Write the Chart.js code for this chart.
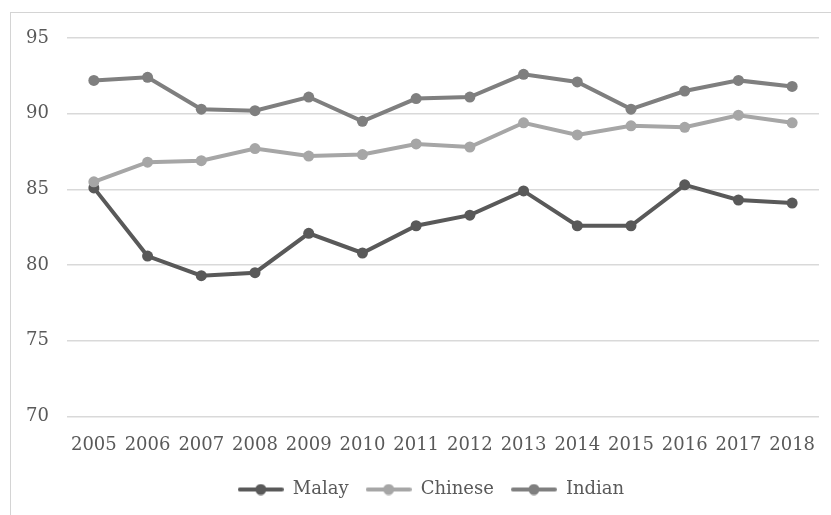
<!DOCTYPE html>
<html>
<head>
<meta charset="utf-8">
<script src="https://cdn.jsdelivr.net/npm/chart.js@4"></script>
<style>
  html, body { margin: 0; padding: 0; background: #ffffff; overflow: hidden; width: 831px; height: 515px; }
  #frame { position: absolute; left: 10px; top: 12px; width: 860px; height: 540px;
           border-left: 1px solid #d4d4d4; border-top: 1px solid #d4d4d4; }
  #c { position: absolute; left: 0px; top: 0px; }
</style>
</head>
<body>
<div id="frame"><canvas id="c" width="840" height="502"></canvas></div>
<script>
const years = ['2005','2006','2007','2008','2009','2010','2011','2012','2013','2014','2015','2016','2017','2018'];
const malay   = [85.1, 80.6, 79.3, 79.5, 82.1, 80.8, 82.6, 83.3, 84.9, 82.6, 82.6, 85.3, 84.3, 84.1];
const chinese = [85.5, 86.8, 86.9, 87.7, 87.2, 87.3, 88.0, 87.8, 89.4, 88.6, 89.2, 89.1, 89.9, 89.4];
const indian  = [92.2, 92.4, 90.3, 90.2, 91.1, 89.5, 91.0, 91.1, 92.6, 92.1, 90.3, 91.5, 92.2, 91.8];
const seriesNames = ['Malay', 'Chinese', 'Indian'];
const yTicks = [70, 75, 80, 85, 90, 95];

const colors = ['#595959', '#a6a6a6', '#7f7f7f'];
const textColor = '#595959';
const fontFamily = "'DejaVu Serif', serif";

function legendSwatch(color) {
  const cv = document.createElement('canvas');
  cv.width = 46; cv.height = 12;
  const g = cv.getContext('2d');
  g.strokeStyle = color; g.lineWidth = 4; g.lineCap = 'round';
  g.beginPath(); g.moveTo(2, 6); g.lineTo(44, 6); g.stroke();
  g.fillStyle = color;
  g.beginPath(); g.arc(23, 6, 5.5, 0, Math.PI * 2); g.fill();
  return cv;
}

const dataLists = [malay, chinese, indian];
const datasets = seriesNames.map((name, i) => ({
  label: name,
  data: dataLists[i],
  borderColor: colors[i],
  backgroundColor: colors[i],
  pointBackgroundColor: colors[i],
  pointBorderColor: colors[i],
  borderWidth: 4,
  pointRadius: 5.5,
  pointBorderWidth: 0,
  tension: 0,
  order: 3 - i
}));

const legendShift = {
  id: 'legendShift',
  afterLayout(chart) {
    if (chart.legend) { chart.legend.left += 8.5; chart.legend.right += 8.5; }
  }
};

new Chart(document.getElementById('c'), {
  type: 'line',
  data: { labels: years, datasets },
  plugins: [legendShift],
  options: {
    responsive: false,
    animation: false,
    devicePixelRatio: 1,
    layout: { padding: { left: 15, right: 32, top: 25, bottom: 6.5 } },
    plugins: {
      tooltip: { enabled: false },
      legend: {
        position: 'bottom',
        labels: {
          color: textColor,
          font: { family: fontFamily, size: 18 },
          usePointStyle: true,
          pointStyleWidth: 46,
          boxHeight: 12,
          padding: 17,
          sort: (a, b) => a.datasetIndex - b.datasetIndex,
          generateLabels: (chart) => chart.data.datasets.map((ds, i) => ({
            text: ds.label,
            fillStyle: ds.borderColor,
            strokeStyle: ds.borderColor,
            lineWidth: 0,
            pointStyle: legendSwatch(ds.borderColor),
            fontColor: textColor,
            datasetIndex: i,
            hidden: false
          }))
        }
      }
    },
    scales: {
      x: {
        type: 'category',
        offset: true,
        grid: { display: false, drawTicks: false },
        border: { display: false },
        ticks: { color: textColor, font: { family: fontFamily, size: 18 }, padding: 18, maxRotation: 0, autoSkip: false },
        afterFit: (s) => { s.height = 47; }
      },
      y: {
        min: 70, max: 95,
        afterBuildTicks: (s) => { s.ticks = yTicks.map(v => ({ value: v })); },
        grid: { color: '#d9d9d9', lineWidth: 1.5, drawTicks: false },
        border: { display: false },
        ticks: { color: textColor, font: { family: fontFamily, size: 18 }, padding: 18 },
        afterFit: (s) => { s.width = 41; s.paddingTop = 0; s.paddingBottom = 0; }
      }
    }
  }
});
</script>
</body>
</html>
